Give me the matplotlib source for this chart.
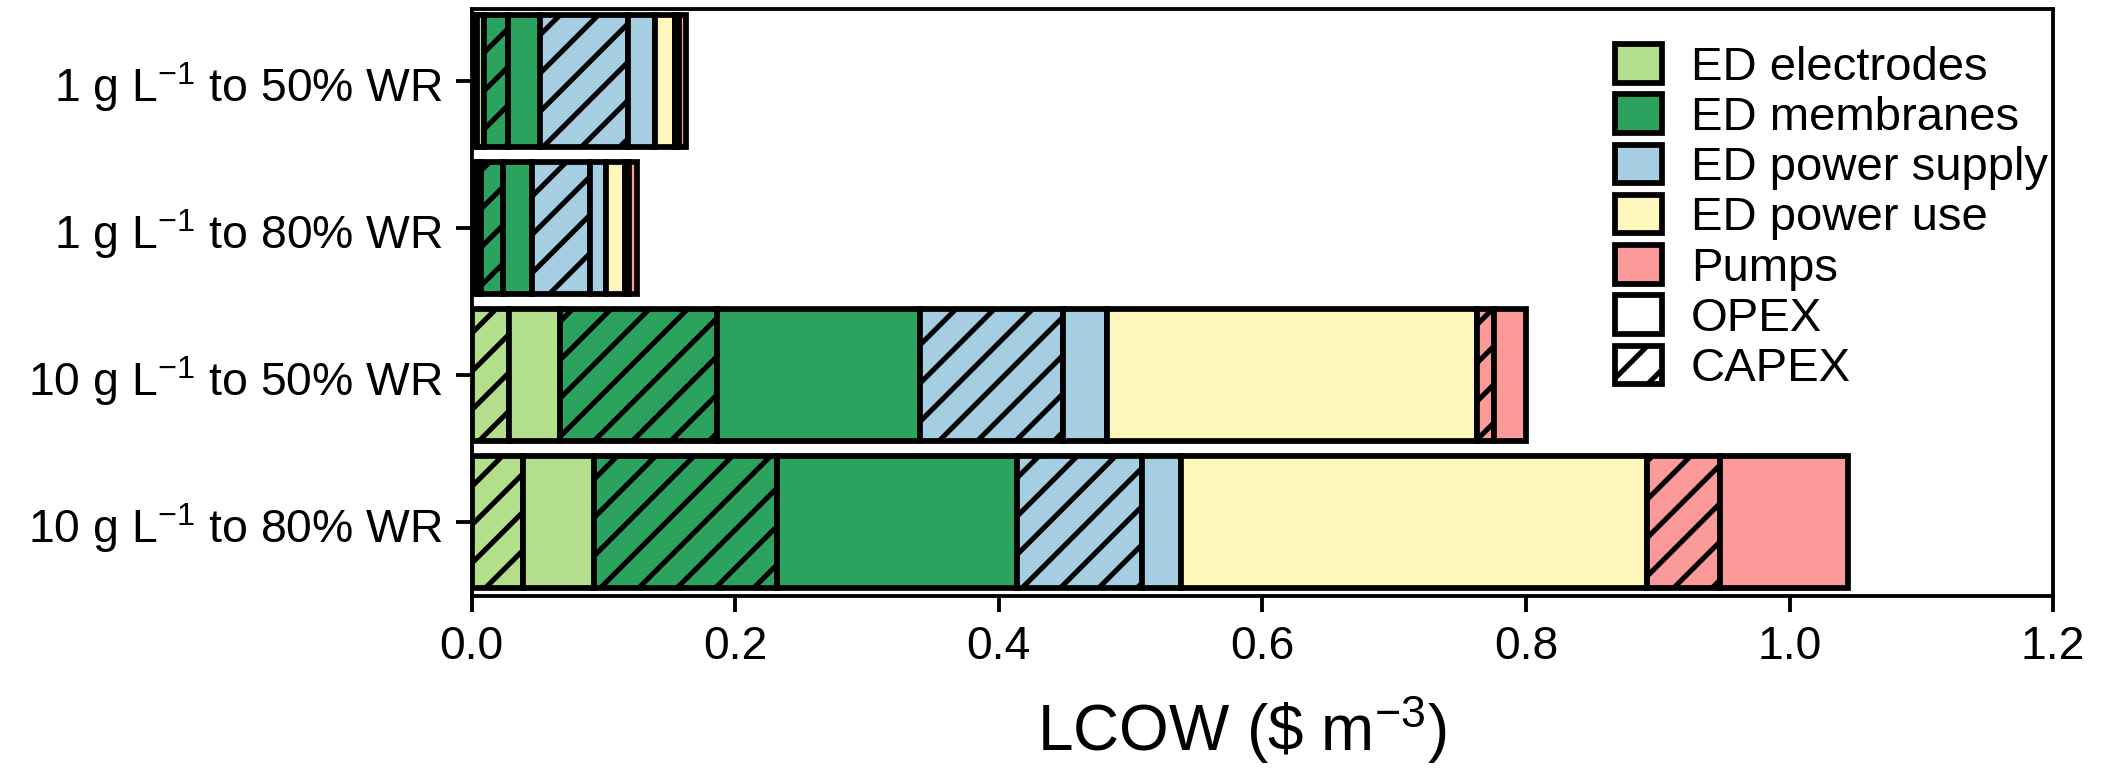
import matplotlib
matplotlib.use('Agg')
import matplotlib.pyplot as plt
from matplotlib.patches import Patch
import numpy as np

# Scenarios, top to bottom
scenarios = ['1 g L$^{-1}$ to 50% WR', '1 g L$^{-1}$ to 80% WR',
             '10 g L$^{-1}$ to 50% WR', '10 g L$^{-1}$ to 80% WR']

# LCOW contributions ($ m^-3)
electrodes_capex = [0.0043, 0.0035, 0.028, 0.0386]
electrodes_opex = [0.0050, 0.0032, 0.039, 0.054]
membranes_capex = [0.0185, 0.0173, 0.119, 0.139]
membranes_opex = [0.0240, 0.0215, 0.154, 0.182]
supply_capex = [0.0670, 0.0443, 0.109, 0.095]
supply_opex = [0.0200, 0.0122, 0.033, 0.030]
power_use = [0.0153, 0.0143, 0.281, 0.353]
pumps_capex = [0.0030, 0.0030, 0.013, 0.056]
pumps_opex = [0.0057, 0.0064, 0.024, 0.097]

categories = ['ED electrodes', 'ED membranes', 'ED power supply', 'ED power use', 'Pumps']
colors = ['#b3de8c', '#2ca25f', '#a6cee3', '#fff6bc', '#fb9a99']

plt.rcParams['font.family'] = ['Liberation Sans', 'DejaVu Sans']
plt.rcParams['mathtext.fontset'] = 'custom'
plt.rcParams['mathtext.rm'] = 'Liberation Sans'
plt.rcParams['mathtext.it'] = 'Liberation Sans:italic'
plt.rcParams['hatch.linewidth'] = 1.6
plt.rcParams['axes.linewidth'] = 1.2

LW = 1.8

# segments in stacking order: (values, color, hatched)
segments = [
    (electrodes_capex, colors[0], True),
    (electrodes_opex, colors[0], False),
    (membranes_capex, colors[1], True),
    (membranes_opex, colors[1], False),
    (supply_capex, colors[2], True),
    (supply_opex, colors[2], False),
    (power_use, colors[3], False),
    (pumps_capex, colors[4], True),
    (pumps_opex, colors[4], False),
]

dpi = 230
fig = plt.figure(figsize=(2107 / dpi, 772 / dpi), dpi=dpi)
ax = fig.add_axes([0.2239, 0.228, 0.7505, 0.7603])

ypos = np.arange(len(scenarios))[::-1]
left = np.zeros(len(scenarios))
for vals, col, hatched in segments:
    vals = np.array(vals)
    ax.barh(ypos, vals, left=left, height=0.9, color=col, edgecolor='black',
            linewidth=LW, hatch='//' if hatched else None)
    left += vals

ax.set_xlim(0, 1.2)
ax.set_ylim(-0.504, 3.491)
ax.set_xticks(np.arange(0, 1.21, 0.2))
ax.set_xticklabels([f'{t:.1f}' for t in np.arange(0, 1.21, 0.2)])
ax.set_yticks(ypos)
ax.set_yticklabels(scenarios)
ax.tick_params(axis='both', labelsize=14.5, length=5, width=1.2, pad=4)
ax.set_xlabel(r'LCOW (\$ m$^{-3}$)', fontsize=20)
ax.xaxis.set_label_coords(0.487, -0.165)

handles = [Patch(facecolor=c, edgecolor='black', linewidth=LW, label=l)
           for c, l in zip(colors, categories)]
handles.append(Patch(facecolor='white', edgecolor='black', linewidth=LW, label='OPEX'))
handles.append(Patch(facecolor='white', edgecolor='black', linewidth=LW, hatch='//', label='CAPEX'))
ax.legend(handles=handles, loc='upper left', bbox_to_anchor=(0.723, 0.94),
          frameon=False, fontsize=14.8, handlelength=1.0, handleheight=0.87,
          labelspacing=0.1, handletextpad=0.6, borderpad=0, borderaxespad=0)

fig.savefig('out.png', dpi=dpi)
